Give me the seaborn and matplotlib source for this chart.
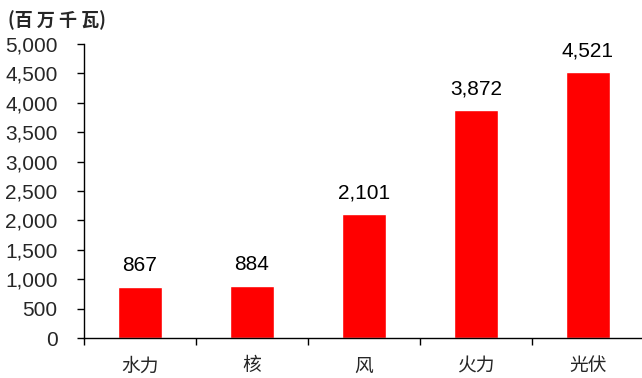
import matplotlib
matplotlib.use("Agg")
import matplotlib.pyplot as plt
import seaborn as sns
import pandas as pd
from matplotlib.ticker import FuncFormatter, FixedLocator

categories = ["水力", "核", "风", "火力", "光伏"]
values = [867, 884, 2101, 3872, 4521]
yticks = list(range(0, 5001, 500))

sns.set_theme(style="white")
plt.rcParams['font.family'] = ['Liberation Sans', 'Noto Sans CJK SC', 'DejaVu Sans']

df = pd.DataFrame({"cat": categories, "val": values})

fig = plt.figure(figsize=(6.42, 3.78), dpi=100)
ax = fig.add_axes([84/642, 1-338/378, 560/642, (338-44)/378])
sns.barplot(data=df, x="cat", y="val", color="#FF0000", saturation=1, width=0.40, ax=ax)

ax.set_xlim(-0.5, len(categories) - 0.5)
ax.set_ylim(0, 5000)
ax.set_yticks(yticks)
ax.yaxis.set_major_formatter(FuncFormatter(lambda v, p: f"{int(v):,}"))
ax.tick_params(axis='y', labelsize=15, length=5, width=1, color='black', direction='out', left=True, pad=14)
ax.set_xticks(range(len(categories)))
ax.set_xticklabels(categories, family=['Noto Sans CJK SC'], fontsize=13.5)
ax.tick_params(axis='x', which='major', length=0, pad=12.5)
ax.xaxis.set_minor_locator(FixedLocator([i - 0.5 for i in range(len(categories) + 1)]))
ax.tick_params(axis='x', which='minor', length=5, width=1, color='black', direction='out', bottom=True)
ax.set_xlabel("")
ax.set_ylabel("")
for s in ['top', 'right']:
    ax.spines[s].set_visible(False)
for s in ['left', 'bottom']:
    ax.spines[s].set_color('black')
    ax.spines[s].set_linewidth(1)

for i, v in enumerate(values):
    ax.annotate(f"{v:,}", (i, v), xytext=(0, 11.2), textcoords='offset points',
                ha='center', va='baseline', fontsize=15, color='black')

fig.text(8/642, 1-20/378, "(百 万 千 瓦)", fontsize=13, fontweight='bold',
         family=['Noto Sans CJK SC', 'DejaVu Sans'], ha='left', va='center')

fig.savefig("out.png", dpi=100)
